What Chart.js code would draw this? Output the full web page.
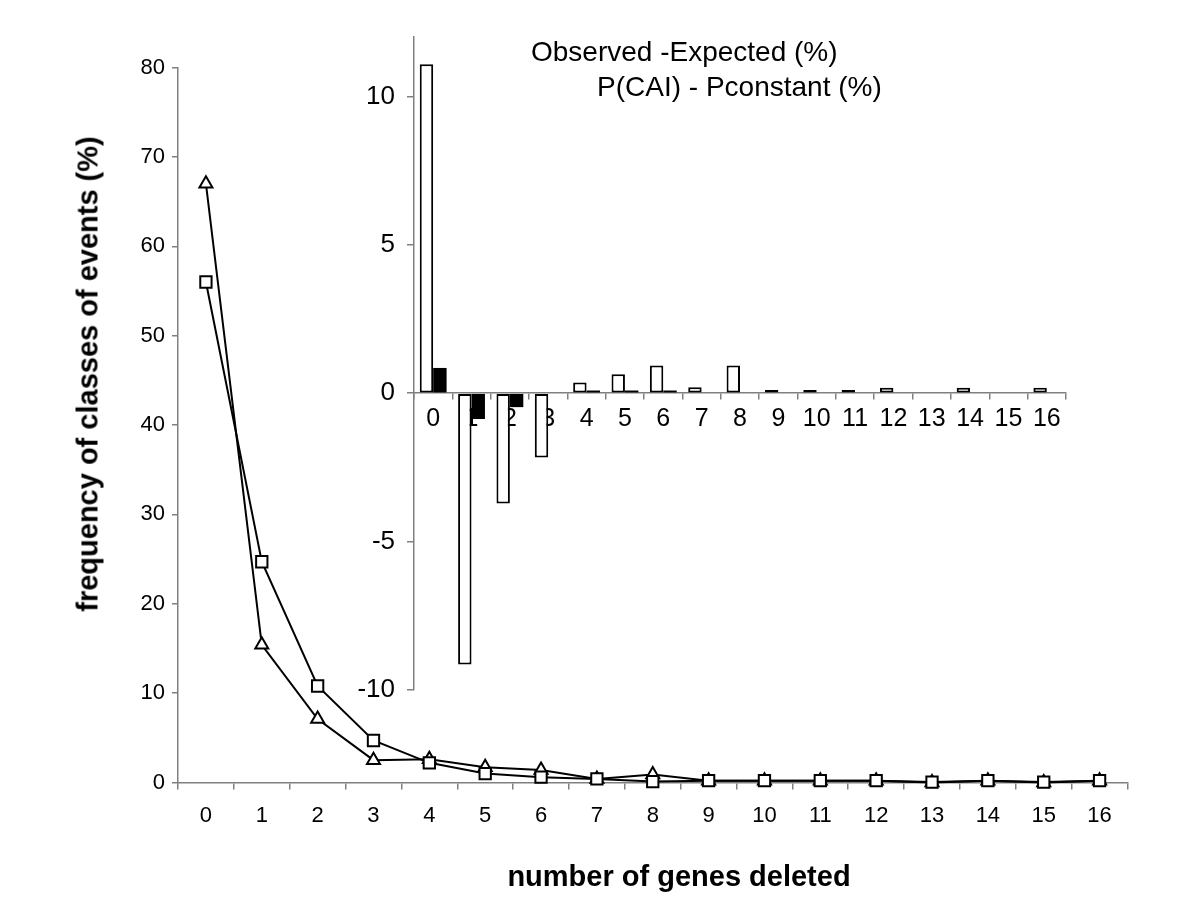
<!DOCTYPE html>
<html>
<head>
<meta charset="utf-8">
<script src="https://cdn.jsdelivr.net/npm/chart.js@4.4.0/dist/chart.umd.min.js"></script>
<style>
    body { margin: 0; background: #fff; }
    #wrap { position: relative; width: 1200px; height: 900px; font-family: 'Liberation Sans', Arial, sans-serif; }
    #mainChart { position: absolute; left: 0; top: 0; }
    #insetChart { position: absolute; left: 300px; top: 20px; pointer-events: none; }
    .txt { position: absolute; white-space: nowrap; color: #000; line-height: 1; }
    .axis-title { font-weight: bold; font-size: 29px; }
    .legend-txt { font-size: 28px; }
</style>
</head>
<body>
<div id="wrap">
    <canvas id="mainChart" width="1200" height="900"></canvas>
    <canvas id="insetChart" width="800" height="700"></canvas>
    <div class="txt axis-title" id="yTitle" style="left:88px; top:374px; transform: translate(-50%, -50%) rotate(-90deg);">frequency of classes of events (%)</div>
    <div class="txt axis-title" id="xTitle" style="left:679px; top:862px; transform: translateX(-50%);">number of genes deleted</div>
    <div class="txt legend-txt" style="left:531px; top:38px;">Observed -Expected (%)</div>
    <div class="txt legend-txt" style="left:597px; top:73px;">P(CAI) - Pconstant (%)</div>
</div>

<script>
// categories (number of genes deleted)
const categories = ['0', '1', '2', '3', '4', '5', '6', '7', '8', '9', '10', '11', '12', '13', '14', '15', '16'];

// main chart series (%)
const triangleSeries = [67.0, 15.4, 7.1, 2.5, 2.6, 1.7, 1.4, 0.4, 0.9, 0.2, 0.2, 0.2, 0.2, 0, 0.2, 0, 0.2];
const squareSeries = [56.0, 24.7, 10.8, 4.7, 2.2, 1.0, 0.6, 0.4, 0.1, 0.2, 0.2, 0.2, 0.2, 0.05, 0.2, 0.05, 0.2];

// inset series (%)
const observedMinusExpected = [11.08, -9.14, -3.72, -2.17, 0.36, 0.64, 0.93, 0.2, 0.93, 0.11, 0.11, 0.11, 0.18, null, 0.18, null, 0.18];
const pCaiMinusPconstant = [0.85, -0.87, -0.47, null, 0.09, 0.09, 0.09, null, null, null, null, null, null, null, null, null, null];

const FONT = "'Liberation Sans', Arial, sans-serif";
const AXIS_GRAY = '#808080';

// Main line chart
new Chart(document.getElementById('mainChart'), {
    type: 'line',
    data: {
        labels: categories,
        datasets: [
            {
                data: squareSeries,
                order: 0,
                borderColor: '#000',
                borderWidth: 2,
                pointStyle: 'rect',
                pointRadius: 8,
                pointBackgroundColor: '#fff',
                pointBorderColor: '#000',
                pointBorderWidth: 2,
                tension: 0,
                clip: false
            },
            {
                data: triangleSeries,
                order: 1,
                borderColor: '#000',
                borderWidth: 2,
                pointStyle: 'triangle',
                pointRadius: 7.5,
                pointBackgroundColor: '#fff',
                pointBorderColor: '#000',
                pointBorderWidth: 2,
                tension: 0,
                clip: false
            }
        ]
    },
    options: {
        responsive: false,
        animation: false,
        layout: { padding: { left: 0, top: 67.5, right: 72.5, bottom: 0 } },
        plugins: { legend: { display: false }, tooltip: { enabled: false } },
        scales: {
            x: {
                offset: true,
                grid: { offset: true, drawOnChartArea: false, tickLength: 7, color: AXIS_GRAY, lineWidth: 1.5 },
                border: { color: AXIS_GRAY, width: 1.5 },
                ticks: { font: { family: FONT, size: 22 }, color: '#000', padding: 13, maxRotation: 0 },
                afterFit: s => { s.height = 117.5; }
            },
            y: {
                min: 0,
                max: 80,
                grid: { drawOnChartArea: false, tickLength: 6, color: AXIS_GRAY, lineWidth: 1.5 },
                border: { color: AXIS_GRAY, width: 1.5 },
                ticks: { stepSize: 10, font: { family: FONT, size: 22 }, color: '#000', padding: 7 },
                afterFit: s => { s.width = 178; }
            }
        }
    }
});

// Inset bar chart
new Chart(document.getElementById('insetChart'), {
    type: 'bar',
    data: {
        labels: categories,
        datasets: [
            {
                label: 'Observed -Expected (%)',
                data: observedMinusExpected,
                backgroundColor: '#fff',
                borderColor: '#000',
                borderWidth: 2,
                borderSkipped: false
            },
            {
                label: 'P(CAI) - Pconstant (%)',
                data: pCaiMinusPconstant,
                backgroundColor: '#000',
                borderColor: '#000',
                borderWidth: 0,
                borderSkipped: false
            }
        ]
    },
    options: {
        responsive: false,
        animation: false,
        categoryPercentage: 0.7,
        barPercentage: 1,
        layout: { padding: { left: 0, top: 17, right: 34, bottom: 30 } },
        plugins: { legend: { display: false }, tooltip: { enabled: false } },
        scales: {
            x: {
                position: { y: 0 },
                offset: true,
                grid: { offset: true, drawOnChartArea: false, tickLength: 6, color: AXIS_GRAY, lineWidth: 1.5 },
                border: { color: AXIS_GRAY, width: 1.5 },
                ticks: { font: { family: FONT, size: 25 }, color: '#000', padding: 5, maxRotation: 0, autoSkip: false },
                afterFit: s => { s.height = 0; s.paddingLeft = 0; s.paddingRight = 0; }
            },
            y: {
                min: -10,
                max: 12,
                grid: { drawOnChartArea: false, tickLength: 7, color: AXIS_GRAY, lineWidth: 1.5 },
                border: { color: AXIS_GRAY, width: 1.5 },
                ticks: { stepSize: 5, includeBounds: false, font: { family: FONT, size: 26 }, color: '#000', padding: 12 },
                afterFit: s => { s.width = 114; s.paddingTop = 0; s.paddingBottom = 0; }
            }
        }
    }
});
</script>
</body>
</html>
